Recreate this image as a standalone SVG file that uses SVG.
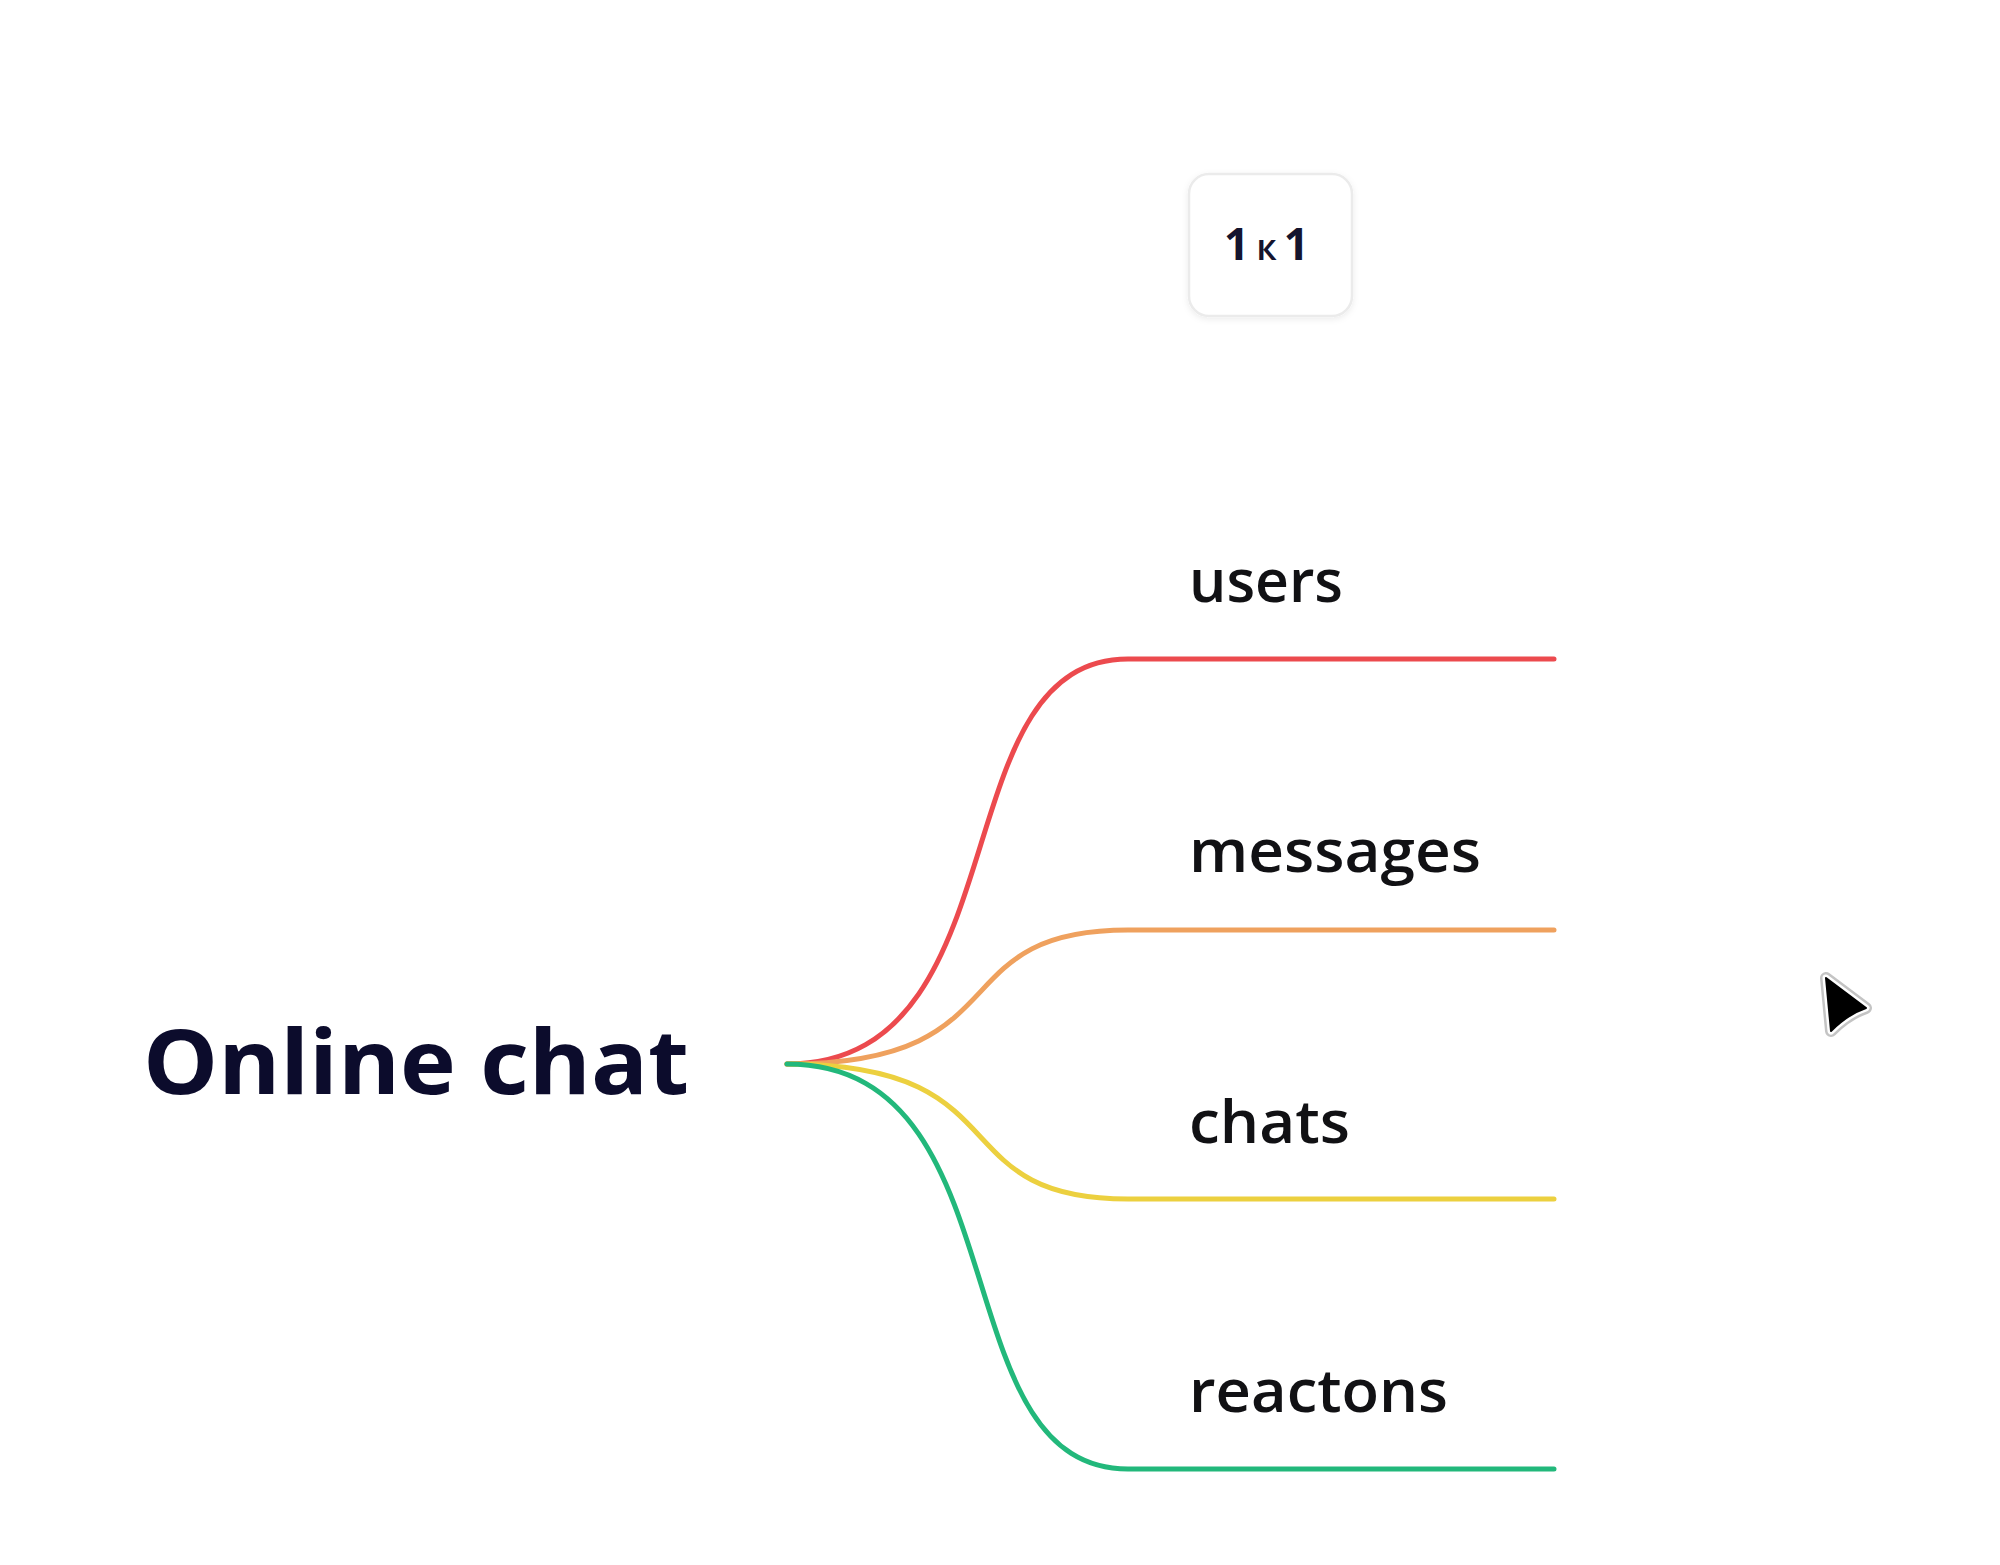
<svg xmlns="http://www.w3.org/2000/svg" width="2000" height="1565" viewBox="0 0 2000 1565">
<style>
.lbl{font-family:"Open Sans","Liberation Sans",sans-serif;font-weight:600;font-size:60px;fill:#111114}
.title{font-family:"Open Sans","Liberation Sans",sans-serif;font-weight:700;font-size:90px;fill:#0c0c2c}
.br{fill:none;stroke-width:5;stroke-linecap:round}
</style>
<defs>
<filter id="sh" x="-20%" y="-20%" width="140%" height="140%">
<feDropShadow dx="0" dy="2" stdDeviation="3" flood-color="#000" flood-opacity="0.08"/>
</filter>
</defs>
<rect width="2000" height="1565" fill="#ffffff"/>
<g id="node-1k1">
<rect x="1189" y="174" width="163" height="142" rx="20" fill="#ffffff" stroke="#ebebeb" stroke-width="2.5" filter="url(#sh)"/>
<text x="1270" y="260" text-anchor="middle" font-family="'Open Sans','Liberation Sans',sans-serif" font-weight="700" font-size="44" letter-spacing="7" fill="#14142e">1<tspan font-size="36" font-weight="600">к</tspan>1</text>
</g>
<g id="connectors">
<path class="br" stroke="#ec4a4e" d="M787,1064 C1025,1064 938,659 1128,659 L1554,659"/>
<path class="br" stroke="#efa15e" d="M787,1064 C1025,1064 938,930 1128,930 L1554,930"/>
<path class="br" stroke="#ecd03f" d="M787,1064 C1025,1064 938,1199 1128,1199 L1554,1199"/>
<path class="br" stroke="#22b87b" d="M787,1064 C1025,1064 938,1469 1128,1469 L1554,1469"/>
</g>
<g id="node-root">
<text class="title" x="143" y="1094" textLength="546" lengthAdjust="spacingAndGlyphs">Online chat</text>
</g>
<g id="node-users"><text class="lbl" x="1189" y="602" textLength="154" lengthAdjust="spacingAndGlyphs">users</text></g>
<g id="node-messages"><text class="lbl" x="1189" y="872" textLength="292" lengthAdjust="spacingAndGlyphs">messages</text></g>
<g id="node-chats"><text class="lbl" x="1189" y="1143" textLength="161" lengthAdjust="spacingAndGlyphs">chats</text></g>
<g id="node-reactons"><text class="lbl" x="1189" y="1412" textLength="259" lengthAdjust="spacingAndGlyphs">reactons</text></g>
<g id="cursor">
<path d="M1826,978 L1866,1008 Q1848,1014 1831,1031 Z" fill="none" stroke="#c4c4c4" stroke-width="12" stroke-linejoin="round"/>
<path d="M1826,978 L1866,1008 Q1848,1014 1831,1031 Z" fill="#000" stroke="#ffffff" stroke-width="7" stroke-linejoin="round"/>
<path d="M1826,978 L1866,1008 Q1848,1014 1831,1031 Z" fill="#000" stroke="#000" stroke-width="2" stroke-linejoin="round"/>
</g>
</svg>
